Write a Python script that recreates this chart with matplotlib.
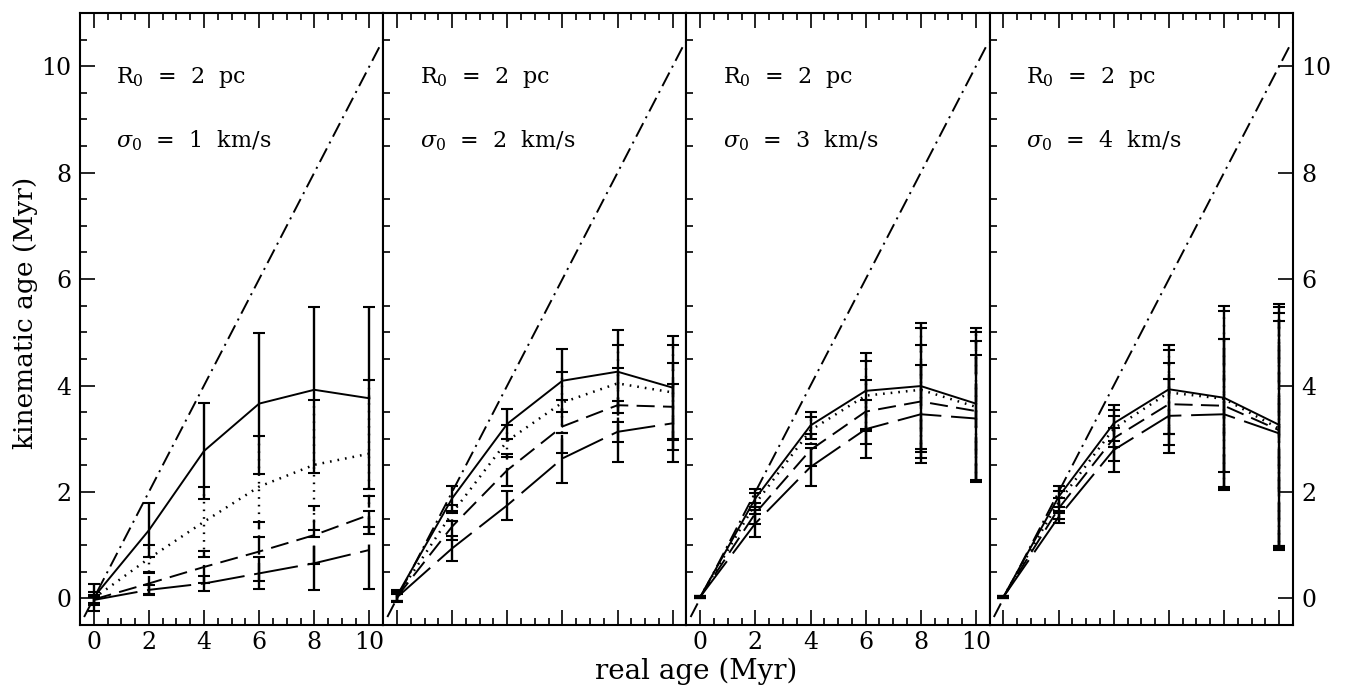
import numpy as np
import matplotlib
matplotlib.use("Agg")
import matplotlib.pyplot as plt
from matplotlib.ticker import MultipleLocator

plt.rcParams["font.family"] = "DejaVu Serif"
plt.rcParams["mathtext.fontset"] = "dejavuserif"
plt.rcParams["lines.scale_dashes"] = False

# Data
real_age = [0, 2, 4, 6, 8, 10]
sigma0 = [1, 2, 3, 4]          # km/s, one panel each
r0 = 2                          # pc
one_to_one = [-0.35, 10.45]     # kinematic age = real age

# mean kinematic ages, one row per panel
kin_solid = [
    [0.02, 1.28, 2.77, 3.66, 3.92, 3.76],
    [0.05, 1.88, 3.28, 4.09, 4.26, 3.96],
    [0.03, 1.88, 3.25, 3.90, 3.99, 3.66],
    [0.03, 1.91, 3.29, 3.93, 3.77, 3.26],
]
kin_dotted = [
    [0.00, 0.75, 1.44, 2.10, 2.51, 2.72],
    [0.04, 1.60, 2.96, 3.68, 4.04, 3.87],
    [0.03, 1.78, 3.16, 3.81, 3.92, 3.60],
    [0.03, 1.81, 3.19, 3.87, 3.75, 3.19],
]
kin_dashed = [
    [-0.02, 0.28, 0.59, 0.88, 1.19, 1.57],
    [0.03, 1.35, 2.41, 3.23, 3.63, 3.60],
    [0.03, 1.60, 2.79, 3.51, 3.70, 3.52],
    [0.03, 1.69, 3.01, 3.65, 3.62, 3.16],
]
kin_longdash = [
    [-0.03, 0.16, 0.28, 0.47, 0.66, 0.91],
    [0.02, 0.94, 1.75, 2.63, 3.13, 3.29],
    [0.03, 1.41, 2.47, 3.18, 3.46, 3.38],
    [0.03, 1.53, 2.79, 3.43, 3.46, 3.10],
]

# 1-sigma errors
err_solid = [
    [0.25, 0.51, 0.91, 1.32, 1.56, 1.71],
    [0.10, 0.23, 0.28, 0.59, 0.78, 0.97],
    [0.02, 0.17, 0.25, 0.72, 1.18, 1.43],
    [0.02, 0.20, 0.34, 0.84, 1.72, 2.28],
]
err_dotted = [
    [0.12, 0.25, 0.66, 0.95, 1.22, 1.38],
    [0.10, 0.15, 0.30, 0.58, 0.73, 0.90],
    [0.02, 0.20, 0.25, 0.66, 1.17, 1.40],
    [0.02, 0.20, 0.35, 0.79, 1.65, 2.29],
]
err_dashed = [
    [0.08, 0.20, 0.30, 0.55, 0.55, 0.36],
    [0.08, 0.25, 0.30, 0.50, 0.70, 0.82],
    [0.02, 0.20, 0.30, 0.60, 1.07, 1.32],
    [0.02, 0.20, 0.42, 0.77, 1.25, 2.21],
]
err_longdash = [
    [0.05, 0.10, 0.15, 0.30, 0.50, 0.73],
    [0.06, 0.24, 0.27, 0.47, 0.57, 0.73],
    [0.02, 0.25, 0.36, 0.55, 0.92, 1.19],
    [0.02, 0.12, 0.41, 0.69, 1.42, 2.12],
]

# (means, errors, linestyle, linewidth)
styles = [
    (kin_solid, err_solid, "-", 1.4),
    (kin_dotted, err_dotted, (0, (1.2, 4.3)), 1.8),
    (kin_dashed, err_dashed, (0, (13, 6)), 1.4),
    (kin_longdash, err_longdash, (0, (32, 7)), 1.4),
]

fig, axes = plt.subplots(1, 4, figsize=(13.46, 6.89), dpi=100, sharey=True)
fig.subplots_adjust(left=0.0594, right=0.9606, bottom=0.0929, top=0.9811, wspace=0)

for i, ax in enumerate(axes):
    ax.plot(one_to_one, one_to_one, color="black", lw=1.4,
            ls=(0, (11, 4, 1.5, 4)))
    for means, errs, ls, lw in styles:
        ax.plot(real_age, means[i], color="black", lw=lw, ls=ls)
        eb = ax.errorbar(real_age, means[i], yerr=errs[i], fmt="none",
                         ecolor="black", elinewidth=1.7, capsize=4,
                         capthick=1.5)
        eb[2][0].set_linestyle(ls)

    ax.text(0.12, 0.886, r"R$_0$  =  %d  pc" % r0, transform=ax.transAxes,
            fontsize=16, va="baseline")
    ax.text(0.12, 0.781, r"$\sigma_0$  =  %d  km/s" % sigma0[i],
            transform=ax.transAxes, fontsize=16, va="baseline")

    ax.set_xlim(-0.5, 10.5)
    ax.set_ylim(-0.5, 11)
    ax.xaxis.set_major_locator(MultipleLocator(2))
    ax.xaxis.set_minor_locator(MultipleLocator(0.5))
    ax.yaxis.set_major_locator(MultipleLocator(2))
    ax.yaxis.set_minor_locator(MultipleLocator(0.5))
    for s in ax.spines.values():
        s.set_linewidth(1.5)

    ax.tick_params(axis="both", which="both", direction="in", width=1.2,
                   labelsize=17, top=True, bottom=True)
    ax.tick_params(which="major", length=11)
    ax.tick_params(axis="x", which="major", pad=4)
    ax.tick_params(axis="y", which="major", pad=6)
    ax.tick_params(which="minor", length=5)
    ax.tick_params(axis="y", left=(i == 0), right=(i == 3),
                   labelleft=(i == 0), labelright=(i == 3))
    ax.tick_params(axis="x", labelbottom=(i in (0, 2)))

fig.text(0.0186, 0.546, "kinematic age (Myr)", rotation=90, fontsize=19,
         ha="center", va="center")
fig.text(0.517, 0.025, "real age (Myr)", fontsize=20, ha="center", va="center")

fig.savefig("out.png", dpi=100)
